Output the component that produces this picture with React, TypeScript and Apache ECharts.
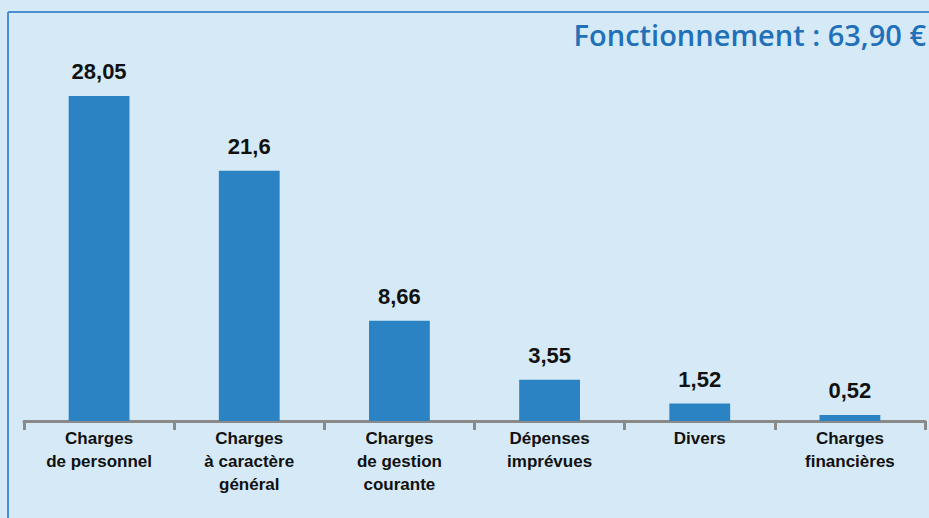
import React, { useEffect, useRef } from "react";
import * as echarts from "echarts";

const categories = [
  "Charges\nde personnel",
  "Charges\nà caractère\ngénéral",
  "Charges\nde gestion\ncourante",
  "Dépenses\nimprévues",
  "Divers",
  "Charges\nfinancières",
];
const values = [28.05, 21.6, 8.66, 3.55, 1.52, 0.52];
const title = "Fonctionnement : 63,90 €";

export default function App() {
  const ref = useRef<HTMLDivElement>(null);
  useEffect(() => {
    if (!ref.current) return;
    const chart = echarts.init(ref.current, undefined, { renderer: "svg" });
    chart.setOption({
      animation: false,
      backgroundColor: "#d5eaf6",
      grid: { left: 24, right: 4, top: 73.3, bottom: 97, containLabel: false },
      graphic: [
        { type: "line", shape: { x1: 8, y1: 12, x2: 929, y2: 12 }, style: { stroke: "#4a8fd0", lineWidth: 2 } },
        { type: "line", shape: { x1: 8, y1: 12, x2: 8, y2: 518 }, style: { stroke: "#4a8fd0", lineWidth: 2 } },
        {
          type: "text",
          right: 3,
          top: 20,
          style: {
            text: title,
            fill: "#2270b9",
            font: "600 29px 'Open Sans', Lato, sans-serif",
          },
        },
      ],
      xAxis: {
        type: "category",
        data: categories,
        axisLine: { lineStyle: { color: "#8a8a8a", width: 3 } },
        axisTick: { show: true, length: 9, lineStyle: { color: "#8a8a8a", width: 3 } },
        axisLabel: {
          interval: 0,
          margin: 6,
          color: "#111",
          fontSize: 17,
          fontWeight: "bold",
          lineHeight: 23,
          fontFamily: "'Liberation Sans Narrow', 'Liberation Sans', sans-serif",
        },
      },
      yAxis: {
        type: "value",
        min: 0,
        max: 30,
        show: false,
        splitLine: { show: false },
      },
      series: [
        {
          type: "bar",
          data: values,
          barWidth: "40.5%",
          itemStyle: { color: "#2b83c4" },
          label: {
            show: true,
            position: "top",
            distance: 13,
            color: "#111",
            fontSize: 22,
            fontWeight: "bold",
            fontFamily: "'Liberation Sans', Arial, sans-serif",
            formatter: (p: any) => String(p.value).replace(".", ","),
          },
        },
      ],
    });
    return () => chart.dispose();
  }, []);
  return (
    <div
      ref={ref}
      style={{ position: "fixed", left: 0, top: 0, width: 929, height: 518 }}
    />
  );
}
